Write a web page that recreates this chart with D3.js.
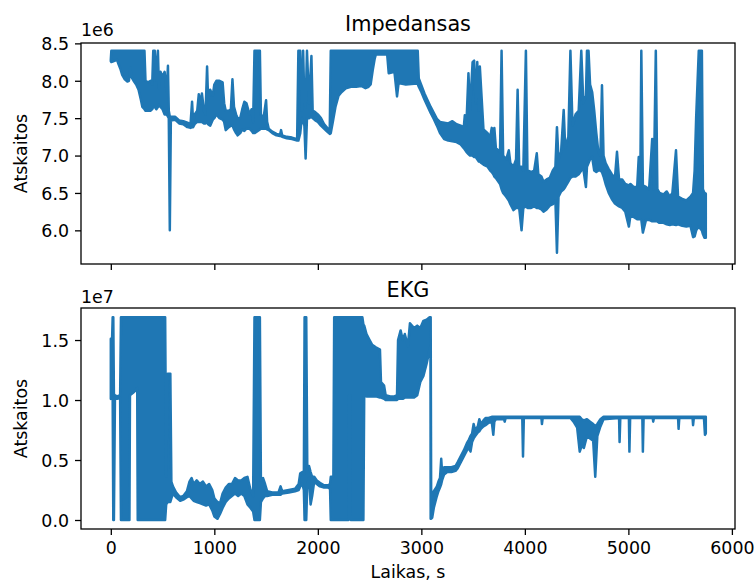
<!DOCTYPE html>
<html>
<head>
<meta charset="utf-8">
<script src="https://cdn.jsdelivr.net/npm/d3@7"></script>
<style>
  body { margin: 0; background: #fff; }
  svg text { font-family: "DejaVu Sans", sans-serif; fill: #000; }
</style>
</head>
<body>
<svg id="fig" width="755" height="584"></svg>
<script>
// Each entry: [time in s, lowest value, highest value] reached by the signal around that time.
// Impedance values are in units of 1e6.
const impedance = [
  [0,8.26,8.28],[5,8.25,8.40],[60,8.28,8.40],[75,8.22,8.40],[95,8.15,8.40],[110,8.08,8.40],
  [135,8.02,8.40],[160,7.99,8.40],[175,8.00,8.40],[188,8.18,8.40],[200,8.05,8.40],[220,8.00,8.40],
  [245,7.95,8.40],[268,7.88,8.40],[290,7.75,8.40],[305,7.65,8.40],[325,7.62,8.40],[335,7.60,8.00],
  [360,7.60,7.98],[385,7.60,8.00],[400,7.62,7.95],[410,7.65,8.40],[425,7.65,8.40],[440,7.62,8.00],
  [455,7.65,8.40],[465,7.68,7.90],[480,7.65,8.12],[500,7.62,8.05],[520,7.55,8.12],[540,7.55,7.85],
  [552,7.52,8.20],[560,7.50,7.60],[570,6.00,7.52],[580,7.47,7.52],[620,7.48,7.52],[660,7.43,7.47],
  [700,7.42,7.46],[740,7.38,7.44],[770,7.37,7.42],[785,7.38,7.72],[795,7.38,7.45],[810,7.42,7.55],
  [835,7.45,7.60],[850,7.45,7.82],[870,7.45,7.70],[880,7.45,7.83],[900,7.43,7.60],[915,7.43,7.55],
  [930,7.45,8.19],[940,7.42,7.75],[960,7.40,7.88],[985,7.48,7.80],[1000,7.50,7.95],[1020,7.55,8.00],
  [1050,7.50,8.00],[1080,7.48,7.98],[1095,7.45,7.70],[1110,7.34,7.60],[1140,7.38,7.60],[1160,7.40,7.62],
  [1175,7.40,8.02],[1190,7.35,7.65],[1210,7.30,7.55],[1225,7.27,7.50],[1250,7.30,7.50],[1270,7.35,7.62],
  [1290,7.33,7.72],[1310,7.36,7.70],[1340,7.36,7.55],[1360,7.33,7.62],[1375,7.30,7.45],[1388,7.30,8.40],
  [1440,7.35,8.40],[1450,7.36,7.55],[1475,7.36,7.50],[1500,7.36,7.74],[1510,7.35,7.45],[1525,7.34,7.36],
  [1560,7.30,7.32],[1600,7.27,7.29],[1635,7.26,7.28],[1645,7.26,7.34],[1655,7.25,7.27],[1700,7.23,7.25],
  [1750,7.22,7.24],[1800,7.20,7.22],[1812,7.20,8.40],[1830,7.30,8.40],[1845,7.50,7.60],[1858,7.45,8.40],
  [1870,7.40,7.70],[1882,6.96,7.65],[1895,7.50,8.40],[1915,7.50,7.70],[1938,7.52,8.33],[1950,7.50,7.60],
  [1975,7.47,7.58],[2000,7.45,7.55],[2030,7.40,7.50],[2060,7.36,7.42],[2090,7.32,7.37],[2115,7.29,7.33],
  [2125,7.30,8.40],[2145,7.45,8.40],[2170,7.65,8.40],[2200,7.80,8.40],[2230,7.85,8.40],[2270,7.90,8.40],
  [2320,7.92,8.40],[2370,7.92,8.40],[2420,7.93,8.40],[2460,7.90,8.40],[2490,7.92,8.40],[2510,7.95,8.40],
  [2530,8.14,8.40],[2550,8.30,8.40],[2560,8.35,8.40],[2670,8.35,8.40],[2685,8.10,8.40],[2740,8.12,8.40],
  [2765,7.79,8.40],[2780,7.97,8.40],[2850,7.95,8.40],[2930,7.96,8.40],[2965,7.96,8.40],[2975,7.92,8.03],
  [3000,7.85,7.94],[3030,7.75,7.83],[3060,7.66,7.74],[3090,7.57,7.65],[3120,7.49,7.57],[3150,7.40,7.49],
  [3180,7.30,7.45],[3220,7.22,7.44],[3260,7.20,7.43],[3300,7.19,7.46],[3340,7.18,7.42],[3380,7.15,7.40],
  [3410,7.10,7.38],[3420,7.08,7.54],[3435,7.05,7.40],[3455,7.02,8.10],[3470,7.00,7.60],[3495,7.00,8.25],
  [3510,6.98,8.27],[3525,6.98,7.70],[3540,6.95,8.25],[3555,6.92,7.60],[3565,6.92,8.19],[3580,6.90,7.83],
  [3600,6.88,7.35],[3640,6.85,7.30],[3665,6.80,7.25],[3680,6.78,7.37],[3695,6.75,7.10],[3705,6.72,7.37],
  [3720,6.70,7.10],[3760,6.62,7.05],[3775,6.55,8.40],[3790,6.50,7.00],[3820,6.45,6.95],[3845,6.40,7.07],
  [3860,6.35,6.90],[3890,6.27,6.85],[3915,6.30,6.95],[3930,6.30,7.88],[3945,6.30,6.85],[3968,6.00,6.85],
  [3985,6.30,6.80],[4010,6.32,8.40],[4025,6.30,6.80],[4060,6.30,6.78],[4090,6.32,6.80],[4115,6.30,7.03],
  [4130,6.30,6.75],[4160,6.28,6.72],[4180,6.25,6.65],[4210,6.28,6.68],[4240,6.33,6.70],[4270,6.35,6.80],
  [4295,6.40,6.85],[4310,5.70,7.38],[4325,6.45,6.95],[4350,6.52,7.05],[4375,6.55,7.61],[4390,6.58,7.10],
  [4420,6.65,7.25],[4440,6.70,8.40],[4460,6.72,7.40],[4490,6.72,7.55],[4520,6.75,7.60],[4545,6.80,8.40],
  [4565,6.82,7.70],[4590,6.58,7.80],[4600,6.85,8.40],[4615,6.90,8.40],[4630,6.95,7.95],[4650,6.98,7.85],
  [4670,6.80,7.60],[4690,6.78,7.30],[4710,6.80,7.05],[4730,6.80,7.00],[4745,6.78,7.94],[4760,6.72,7.00],
  [4780,6.62,6.90],[4810,6.50,6.82],[4840,6.42,6.75],[4870,6.36,6.70],[4890,6.34,7.05],[4910,6.32,6.68],
  [4940,6.30,6.68],[4970,6.25,6.62],[5005,6.05,6.60],[5020,6.20,6.62],[5050,6.18,6.58],[5085,6.15,6.58],
  [5100,6.15,6.98],[5115,6.15,6.60],[5125,6.14,8.40],[5140,5.97,6.60],[5170,6.14,6.58],[5200,6.14,6.55],
  [5230,6.12,7.22],[5245,6.12,6.55],[5265,6.12,8.40],[5280,6.12,6.55],[5300,6.10,6.50],[5340,6.10,6.48],
  [5370,6.08,6.52],[5400,6.07,6.45],[5425,6.08,6.50],[5460,6.07,7.07],[5480,6.08,6.45],[5520,6.06,6.42],
  [5560,6.05,6.40],[5600,6.06,6.45],[5625,5.91,6.50],[5640,5.92,6.80],[5655,6.00,7.52],[5680,6.05,8.40],
  [5710,6.00,8.40],[5720,5.95,6.55],[5735,5.90,6.50],[5748,5.90,6.49]
];

// EKG values are in units of 1e7.
const ekg = [
  [0,1.01,1.51],[12,1.02,1.50],[18,1.02,1.69],[24,0.00,1.69],[30,0.00,1.05],[40,1.02,1.04],
  [60,1.01,1.03],[90,1.02,1.04],[98,0.00,1.69],[180,0.00,1.69],[185,1.04,1.69],[215,1.06,1.69],
  [240,1.08,1.69],[255,1.10,1.69],[260,0.00,1.69],[525,0.00,1.69],[535,0.13,0.36],[550,0.15,1.22],
  [575,0.15,1.22],[585,0.18,0.32],[600,0.22,0.28],[630,0.19,0.23],[670,0.16,0.19],[700,0.17,0.20],
  [735,0.19,0.24],[760,0.20,0.32],[780,0.18,0.35],[800,0.16,0.30],[830,0.15,0.33],[860,0.14,0.30],
  [890,0.13,0.32],[920,0.12,0.28],[950,0.13,0.30],[980,0.08,0.25],[1000,0.03,0.18],[1030,0.01,0.15],
  [1055,0.05,0.14],[1080,0.10,0.22],[1110,0.15,0.27],[1140,0.18,0.30],[1170,0.20,0.30],[1200,0.22,0.35],
  [1230,0.20,0.33],[1260,0.22,0.33],[1290,0.20,0.35],[1320,0.13,0.36],[1350,0.10,0.25],[1375,0.07,0.20],
  [1388,0.00,1.69],[1440,0.00,1.69],[1450,0.15,0.33],[1470,0.18,0.35],[1490,0.20,0.30],[1510,0.20,0.24],
  [1560,0.21,0.23],[1620,0.21,0.23],[1640,0.21,0.28],[1655,0.22,0.24],[1720,0.23,0.25],[1780,0.24,0.26],
  [1815,0.25,0.30],[1830,0.28,0.39],[1850,0.30,0.40],[1865,0.25,0.38],[1872,0.00,1.69],[1888,0.00,1.69],
  [1898,0.30,0.45],[1915,0.35,0.45],[1930,0.13,0.40],[1945,0.20,0.36],[1965,0.32,0.36],[1990,0.30,0.33],
  [2020,0.28,0.31],[2060,0.27,0.29],[2100,0.27,0.29],[2118,0.26,0.30],[2125,0.00,0.36],[2150,0.00,0.36],
  [2158,0.00,1.69],[2295,0.00,1.69],[2302,1.04,1.69],[2312,1.04,1.69],[2318,0.00,1.69],[2430,0.00,1.69],
  [2440,0.00,1.63],[2448,1.04,1.62],[2470,1.03,1.55],[2500,1.03,1.50],[2525,1.03,1.46],[2560,1.03,1.44],
  [2600,1.02,1.42],[2610,1.02,1.15],[2640,1.01,1.12],[2655,1.00,1.04],[2700,1.00,1.03],[2740,1.00,1.03],
  [2765,1.00,1.04],[2775,1.01,1.50],[2800,1.01,1.58],[2820,1.01,1.50],[2840,1.02,1.55],[2870,1.02,1.45],
  [2890,1.02,1.64],[2930,1.02,1.60],[2960,1.04,1.62],[2990,1.15,1.60],[3020,1.20,1.66],[3050,1.30,1.67],
  [3080,1.42,1.69],[3088,1.45,1.69],[3090,0.01,1.69],[3095,0.01,0.15],[3105,0.02,0.22],[3120,0.10,0.24],
  [3135,0.15,0.26],[3150,0.20,0.28],[3165,0.24,0.32],[3180,0.27,0.35],[3192,0.30,0.51],[3200,0.33,0.40],
  [3220,0.38,0.44],[3250,0.40,0.44],[3290,0.40,0.44],[3330,0.41,0.45],[3350,0.43,0.48],[3380,0.48,0.53],
  [3410,0.53,0.58],[3440,0.58,0.64],[3460,0.60,0.67],[3475,0.57,0.70],[3490,0.65,0.72],[3505,0.68,0.80],
  [3520,0.70,0.75],[3545,0.73,0.78],[3560,0.74,0.84],[3575,0.76,0.80],[3600,0.78,0.83],[3620,0.79,0.85],
  [3650,0.81,0.85],[3680,0.82,0.86],[3695,0.71,0.86],[3705,0.82,0.86],[3720,0.84,0.86],[3800,0.84,0.86],
  [3805,0.82,0.86],[3815,0.85,0.86],[3975,0.85,0.86],[3982,0.53,0.86],[3990,0.85,0.86],[4160,0.85,0.86],
  [4165,0.80,0.86],[4172,0.85,0.86],[4440,0.85,0.86],[4470,0.82,0.86],[4505,0.77,0.86],[4530,0.57,0.86],
  [4550,0.62,0.84],[4570,0.60,0.83],[4600,0.70,0.84],[4630,0.68,0.82],[4660,0.66,0.80],[4680,0.36,0.78],
  [4700,0.70,0.80],[4730,0.78,0.84],[4760,0.84,0.86],[4910,0.85,0.86],[4915,0.65,0.86],[4922,0.85,0.86],
  [5005,0.85,0.86],[5010,0.57,0.86],[5017,0.85,0.86],[5135,0.85,0.86],[5140,0.57,0.86],[5147,0.85,0.86],
  [5235,0.85,0.86],[5240,0.82,0.86],[5247,0.85,0.86],[5480,0.85,0.86],[5485,0.76,0.86],[5492,0.85,0.86],
  [5620,0.85,0.86],[5625,0.79,0.86],[5632,0.85,0.86],[5730,0.85,0.86],[5740,0.71,0.86],[5748,0.72,0.86]
];

const timeTicks = [0, 1000, 2000, 3000, 4000, 5000, 6000];
const impedanceTicks = [6.0, 6.5, 7.0, 7.5, 8.0, 8.5];
const ekgTicks = [0.0, 0.5, 1.0, 1.5];
const panelTitles = ["Impedansas", "EKG"];
const offsetLabels = ["1e6", "1e7"];
const yLabel = "Atskaitos";
const xLabel = "Laikas, s";

const lineColor = "#1f77b4";
const fontSize = 17.4, titleSize = 20.8;
const svg = d3.select("#fig");
const left = 81, right = 735;

const x = d3.scaleLinear().domain([-288, 6030]).range([left, right]);

const panels = [
  { top: 43, bottom: 264, series: impedance, domain: [5.55, 8.505], ticks: impedanceTicks, showTimeLabels: false, titleY: 31, offsetY: 36 },
  { top: 308, bottom: 529, series: ekg, domain: [-0.075, 1.767], ticks: ekgTicks, showTimeLabels: true, titleY: 297, offsetY: 303 }
];

panels.forEach((p, i) => {
  const y = d3.scaleLinear().domain(p.domain).range([p.bottom, p.top]);
  const g = svg.append("g");

  const clipId = "clip" + i;
  svg.append("defs").append("clipPath").attr("id", clipId)
    .append("rect").attr("x", left).attr("y", p.top)
    .attr("width", right - left).attr("height", p.bottom - p.top);

  // signal trace: area between the low and high values, outlined with the line width
  const band = d3.area()
    .x(d => x(d[0]))
    .y0(d => y(d[1]))
    .y1(d => y(d[2]));
  g.append("path")
    .datum(p.series)
    .attr("clip-path", `url(#${clipId})`)
    .attr("d", band)
    .attr("fill", lineColor)
    .attr("stroke", lineColor)
    .attr("stroke-width", 2.5)
    .attr("stroke-linejoin", "round");

  // axes frame
  g.append("rect")
    .attr("x", left).attr("y", p.top)
    .attr("width", right - left).attr("height", p.bottom - p.top)
    .attr("fill", "none").attr("stroke", "#000").attr("stroke-width", 1.3);

  // time axis
  const xa = g.append("g")
    .attr("transform", `translate(0,${p.bottom})`)
    .call(d3.axisBottom(x).tickValues(timeTicks).tickSize(6).tickFormat(d3.format("d")));
  xa.select(".domain").remove();
  xa.selectAll("line").attr("stroke", "#000").attr("stroke-width", 1.3);
  if (p.showTimeLabels) {
    xa.selectAll("text")
      .attr("font-size", fontSize).attr("font-family", "DejaVu Sans")
      .attr("fill", "#000").attr("dy", null).attr("y", 25);
  } else {
    xa.selectAll("text").remove();
  }

  // value axis
  const ya = g.append("g")
    .attr("transform", `translate(${left},0)`)
    .call(d3.axisLeft(y).tickValues(p.ticks).tickSize(6).tickPadding(6).tickFormat(d3.format(".1f")));
  ya.select(".domain").remove();
  ya.selectAll("line").attr("stroke", "#000").attr("stroke-width", 1.3);
  ya.selectAll("text")
    .attr("font-size", fontSize).attr("font-family", "DejaVu Sans")
    .attr("fill", "#000").attr("dy", "0.36em");

  // title
  svg.append("text")
    .attr("x", (left + right) / 2).attr("y", p.titleY)
    .attr("text-anchor", "middle").attr("font-size", titleSize)
    .text(panelTitles[i]);

  // scale offset
  svg.append("text")
    .attr("x", left).attr("y", p.offsetY)
    .attr("font-size", fontSize)
    .text(offsetLabels[i]);

  // y label
  svg.append("text")
    .attr("transform", `translate(27,${(p.top + p.bottom) / 2}) rotate(-90)`)
    .attr("text-anchor", "middle").attr("font-size", fontSize)
    .text(yLabel);
});

svg.append("text")
  .attr("x", (left + right) / 2).attr("y", 578)
  .attr("text-anchor", "middle").attr("font-size", fontSize)
  .text(xLabel);
</script>
</body>
</html>
